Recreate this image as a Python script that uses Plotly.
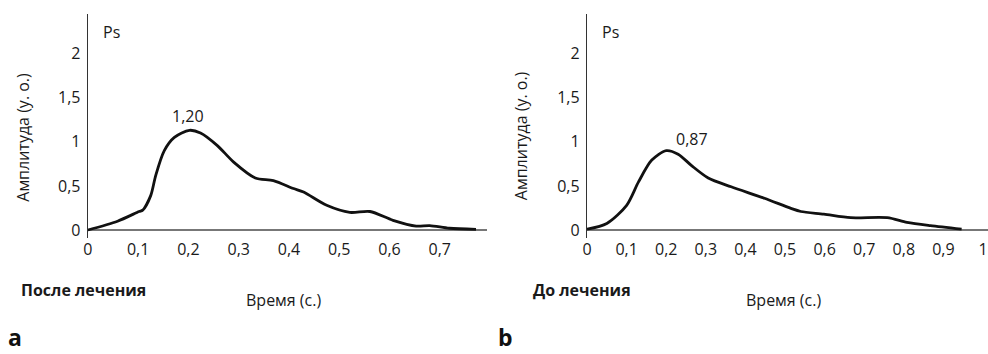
import plotly.graph_objects as go

# Panel a: после лечения
time_a = [0.0, 0.059, 0.102, 0.109, 0.125, 0.135, 0.152, 0.172, 0.202, 0.224, 0.257, 0.290,
          0.333, 0.369, 0.409, 0.429, 0.475, 0.521, 0.561, 0.607, 0.653, 0.680, 0.719, 0.772]
amp_a = [0.0, 0.10, 0.21, 0.225, 0.39, 0.62, 0.90, 1.05, 1.13, 1.10, 0.96, 0.77,
         0.59, 0.56, 0.47, 0.43, 0.28, 0.20, 0.21, 0.11, 0.045, 0.05, 0.02, 0.008]

# Panel b: до лечения
time_b = [0.0, 0.05, 0.10, 0.13, 0.163, 0.20, 0.23, 0.264, 0.306, 0.364, 0.448, 0.515,
          0.54, 0.598, 0.666, 0.758, 0.808, 0.867, 0.946]
amp_b = [0.01, 0.075, 0.28, 0.545, 0.79, 0.90, 0.86, 0.73, 0.59, 0.49, 0.36, 0.245,
         0.21, 0.18, 0.14, 0.14, 0.087, 0.05, 0.01]

peak_a_label = "1,20"
peak_b_label = "0,87"
y_title = "Амплитуда (у. о.)"
x_title = "Время (с.)"
title_a = "После лечения"
title_b = "До лечения"

FONT = "Open Sans"
FS = 16
TXT = "#1a1a1a"
W, H = 988, 354

fig = go.Figure()
fig.add_trace(go.Scatter(x=time_a, y=amp_a, mode="lines", line=dict(color="#111", width=2.8, shape="spline", smoothing=0.8),
                         xaxis="x", yaxis="y", showlegend=False, hoverinfo="skip"))
fig.add_trace(go.Scatter(x=time_b, y=amp_b, mode="lines", line=dict(color="#111", width=2.8, shape="spline", smoothing=0.8),
                         xaxis="x2", yaxis="y2", showlegend=False, hoverinfo="skip"))

ytop, ybot = 14, 240
ydom = [1 - ybot / H, 1 - ytop / H]
yrange = [-0.09, 2.45]

common_x = dict(showgrid=False, zeroline=False, showline=False, ticks="", dtick=0.1, tick0=0,
                tickfont=dict(size=FS, color=TXT, family=FONT))
common_y = dict(showgrid=False, zeroline=True, zerolinecolor="#777", zerolinewidth=1.8,
                showline=True, linecolor="#333", linewidth=1.4, ticks="", dtick=0.5, tick0=0,
                range=yrange, domain=ydom, ticklabelstandoff=3,
                tickfont=dict(size=FS, color=TXT, family=FONT))

fig.update_layout(
    width=W, height=H, margin=dict(l=0, r=0, t=0, b=0),
    paper_bgcolor="white", plot_bgcolor="white",
    separators=", ",
    font=dict(family=FONT, size=FS, color=TXT),
    xaxis=dict(common_x, domain=[83.3 / W, 484 / W], range=[0, 0.793], anchor="y"),
    yaxis=dict(common_y, anchor="x"),
    xaxis2=dict(common_x, domain=[585 / W, 1.0], range=[0, 1.0126], anchor="y2"),
    yaxis2=dict(common_y, anchor="x2"),
)

ann = []
def A(**k):
    ann.append(dict(showarrow=False, font=dict(family=FONT, size=FS, color=TXT), **k))

A(text="Ps", x=0.027, y=2.24, xref="x", yref="y", xanchor="left", yanchor="middle")
A(text="Ps", x=0.033, y=2.24, xref="x2", yref="y2", xanchor="left", yanchor="middle")
A(text=peak_a_label, x=0.199, y=1.29, xref="x", yref="y", xanchor="center", yanchor="middle")
A(text=peak_b_label, x=0.266, y=1.03, xref="x2", yref="y2", xanchor="center", yanchor="middle")
A(text=y_title, x=18 / W, y=1 - 138 / H, xref="paper", yref="paper", textangle=-90, xanchor="center", yanchor="middle")
A(text=y_title, x=518 / W, y=1 - 137 / H, xref="paper", yref="paper", textangle=-90, xanchor="center", yanchor="middle")
A(text=x_title, x=280 / W, y=1 - 303 / H, xref="paper", yref="paper", xanchor="center", yanchor="middle")
A(text=x_title, x=782 / W, y=1 - 303 / H, xref="paper", yref="paper", xanchor="center", yanchor="middle")
A(text="<b>" + title_a + "</b>", x=14 / W, y=1 - 292 / H, xref="paper", yref="paper", xanchor="left", yanchor="middle")
A(text="<b>" + title_b + "</b>", x=529 / W, y=1 - 292 / H, xref="paper", yref="paper", xanchor="left", yanchor="middle")
ann.append(dict(showarrow=False, text="<b>a</b>", x=1 / W, y=1 - 340 / H, xref="paper", yref="paper", xanchor="left",
                yanchor="middle", font=dict(family=FONT, size=23, color="#111")))
ann.append(dict(showarrow=False, text="<b>b</b>", x=493 / W, y=1 - 340 / H, xref="paper", yref="paper", xanchor="left",
                yanchor="middle", font=dict(family=FONT, size=23, color="#111")))
fig.update_layout(annotations=ann)

fig.write_html("out.html")
